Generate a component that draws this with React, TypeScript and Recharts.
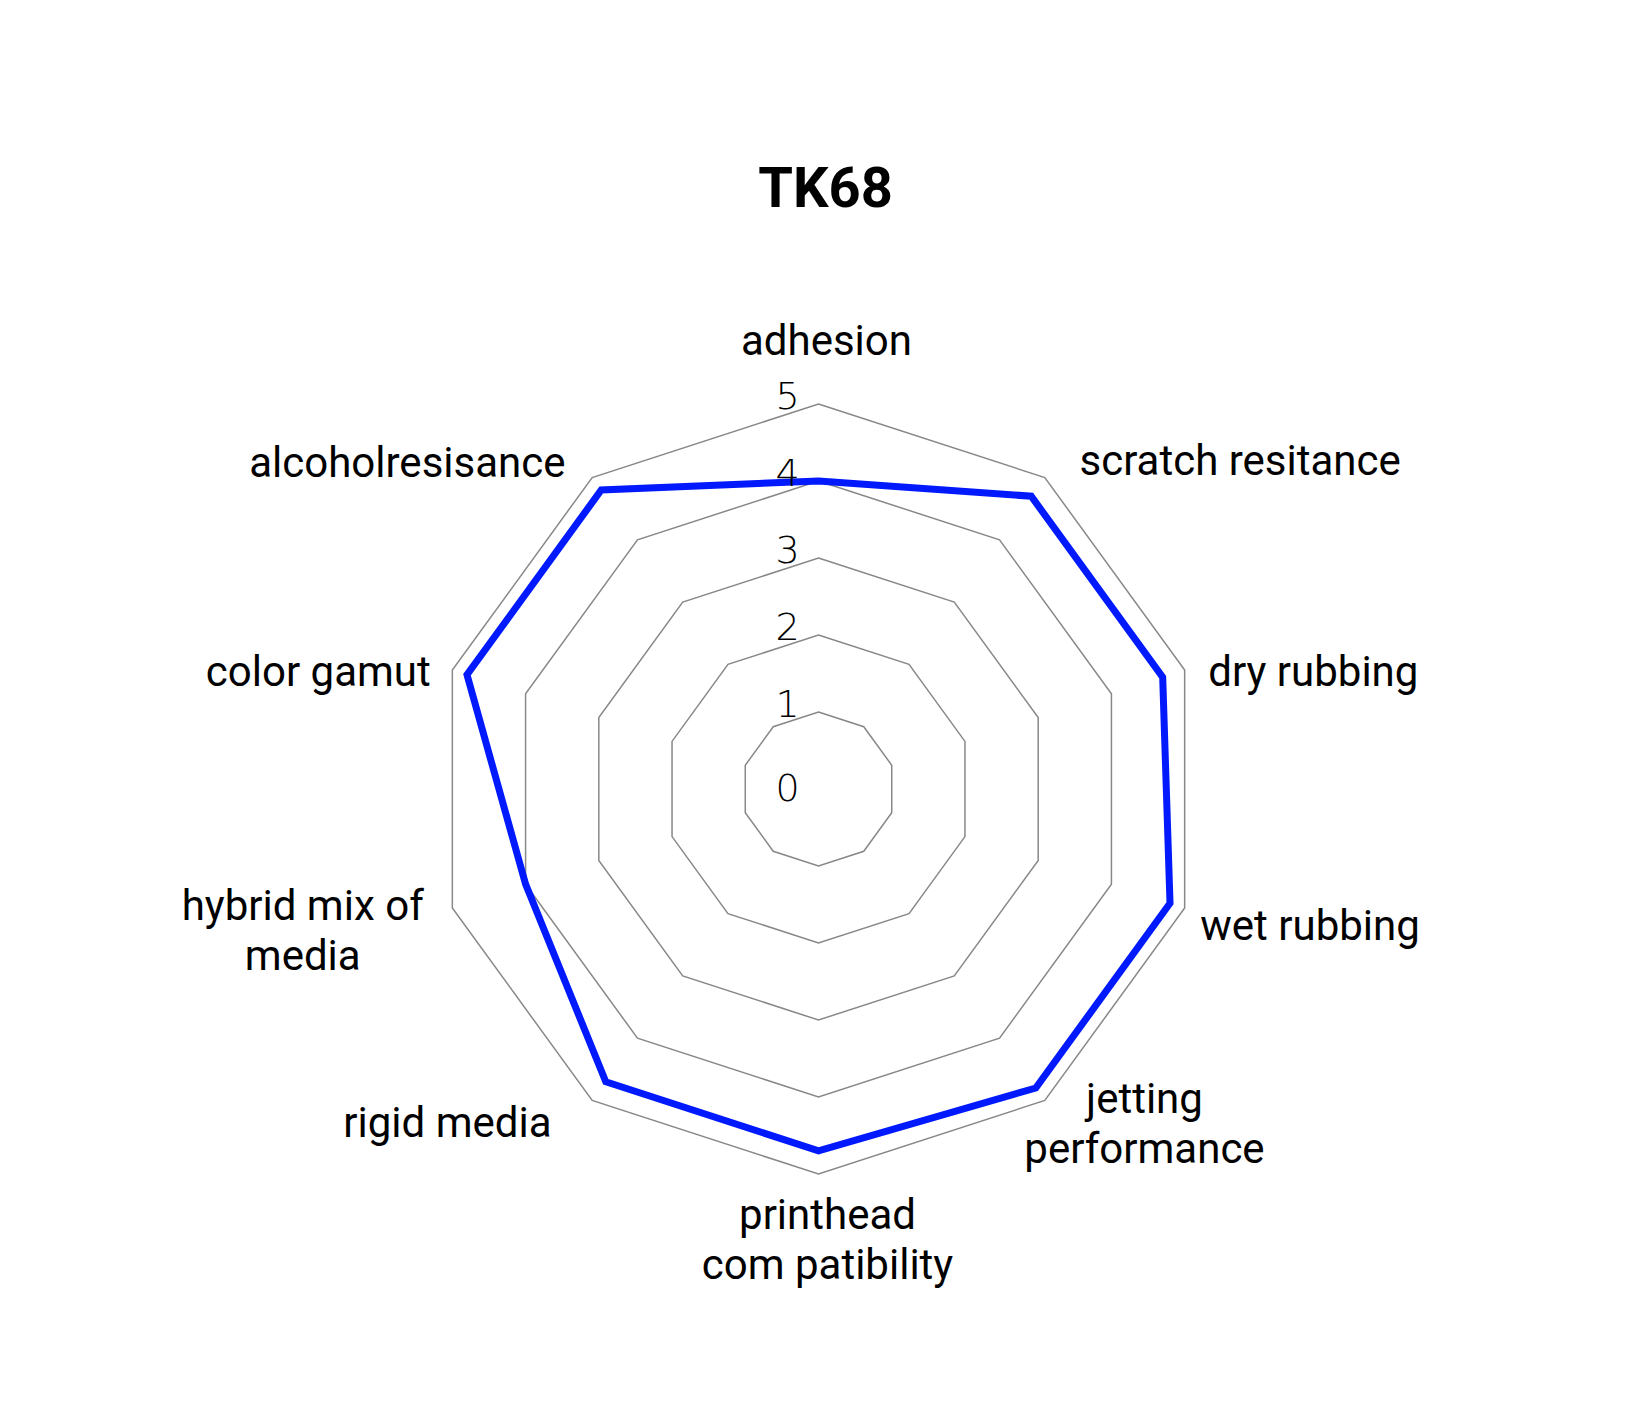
import React from 'react';
import { RadarChart, Radar, PolarGrid, PolarAngleAxis, PolarRadiusAxis } from 'recharts';

const categories = [
  'adhesion',
  'scratch resitance',
  'dry rubbing',
  'wet rubbing',
  'jetting\nperformance',
  'printhead\ncom patibility',
  'rigid media',
  'hybrid mix of\nmedia',
  'color gamut',
  'alcoholresisance',
];
const scores = [4, 4.7, 4.7, 4.8, 4.8, 4.7, 4.7, 4, 4.8, 4.8];
const radiusTicks = [0, 1, 2, 3, 4, 5];

const data = categories.map((name, i) => ({ name, score: scores[i] }));

// label placement nudges around each spoke end: anchor, dx, dy (first baseline)
const labelNudge: [string, number, number][] = [
  ['middle', 8, -41],
  ['start', 30, 4],
  ['start', 16, 18],
  ['start', 8, 30],
  ['middle', 95, 6],
  ['middle', 9, 47],
  ['end', -36, 30],
  ['middle', -142, 10],
  ['end', -14, 18],
  ['end', -22, 6],
];

if (typeof document !== 'undefined') document.body.style.margin = '0';

const AngleTick = (props: any) => {
  const { x, y, payload, index } = props;
  const [anchor, dx, dy] = labelNudge[index] || ['middle', 0, 0];
  const lines = String(payload.value).split('\n');
  return (
    <text
      x={x + dx}
      y={y + dy}
      textAnchor={anchor}
      fontFamily="Roboto"
      fontSize={42}
      fill="#000"
    >
      {lines.map((l, i) => (
        <tspan key={i} x={x + dx} dy={i === 0 ? 0 : 50}>{l}</tspan>
      ))}
    </text>
  );
};

const RadiusTick = (props: any) => {
  const { x, y, payload } = props;
  return (
    <text
      x={x - 31}
      y={y + (payload.value === 0 ? 12 : 5)}
      textAnchor="middle"
      fontFamily="DejaVu Sans"
      fontWeight={200}
      fontSize={38}
      fill="#000"
    >
      {payload.value}
    </text>
  );
};

export default function App() {
  return (
    <div style={{ position: 'relative', width: 1643, height: 1421, background: '#fff' }}>
      <div
        style={{
          position: 'absolute',
          top: 160,
          left: 4,
          width: 1643,
          textAlign: 'center',
          fontFamily: 'Roboto',
          fontWeight: 700,
          fontSize: 56,
          lineHeight: '56px',
          color: '#000',
        }}
      >
        TK68
      </div>
      <RadarChart width={1643} height={1421} data={data} cx={818.5} cy={789} outerRadius={385}>
        <PolarGrid gridType="polygon" radialLines={false} stroke="#888" strokeWidth={1.5} />
        <PolarAngleAxis dataKey="name" tick={AngleTick} tickLine={false} axisLine={false} tickSize={8} />
        <PolarRadiusAxis
          angle={90}
          domain={[0, 5]}
          ticks={radiusTicks}
          tickCount={6}
          axisLine={false}
          tickLine={false}
          tick={RadiusTick}
        />
        <Radar
          dataKey="score"
          stroke="#0019FF"
          strokeWidth={7}
          fill="none"
          fillOpacity={0}
          dot={false}
          isAnimationActive={false}
        />
      </RadarChart>
    </div>
  );
}
